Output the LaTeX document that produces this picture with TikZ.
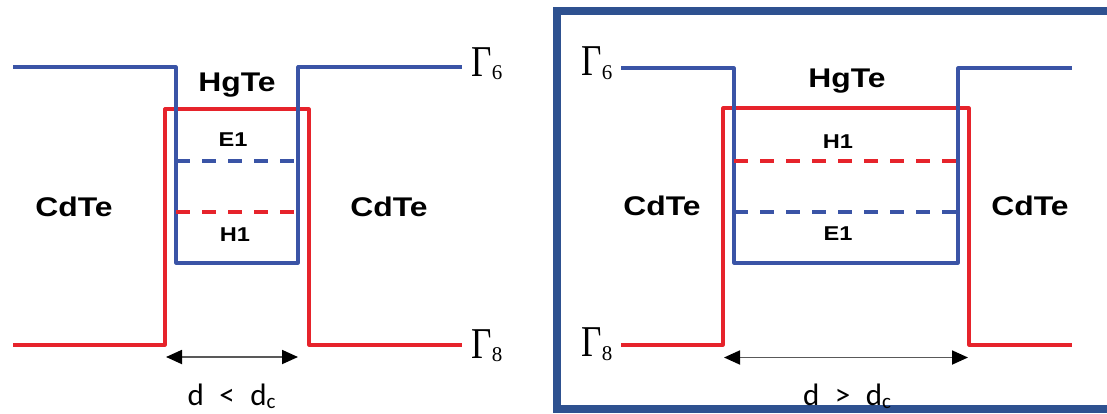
\documentclass[tikz,border=0pt]{standalone}
\usepackage{fontspec}
\newfontfamily\labfont[FakeStretch=1.18]{Liberation Sans}
\newfontfamily\dfont{Carlito}
\newfontfamily\gfont[FakeStretch=0.8]{Liberation Serif}
\newfontfamily\nfont{Liberation Serif}
\usepackage{xcolor}
\usepackage{tikz}
\usetikzlibrary{arrows.meta}
\definecolor{gsix}{HTML}{3A54A6}
\definecolor{geight}{HTML}{E6232B}
\definecolor{frm}{HTML}{2E5190}
\tikzset{
  cb/.style={line width=1.6pt,gsix,line join=round},
  vb/.style={line width=1.6pt,geight,line join=round},
  lvl/.style={line width=1.6pt,dash pattern=on 7pt off 6pt},
  mat/.style={font=\labfont\bfseries\fontsize{13.5}{15}\selectfont,anchor=base,inner sep=0pt},
  sb/.style={font=\labfont\bfseries\fontsize{10}{12}\selectfont,anchor=base,inner sep=0pt},
  wd/.style={line width=0.9pt,black!65,{Triangle[length=8pt,width=7pt,black]}-{Triangle[length=8pt,width=7pt,black]}},
  dl/.style={font=\dfont\fontsize{15.5}{17}\selectfont,anchor=base,inner sep=0pt},
  gm/.style={anchor=base west,inner sep=0pt}
}
\newcommand{\gam}[1]{{\gfont\fontsize{22}{24}\selectfont Γ}{\nfont\fontsize{10.5}{11}\selectfont\raisebox{-1.7pt}{#1}}}
\newcommand{\dsub}[1]{d{\fontsize{10.5}{11}\selectfont\raisebox{-1.8pt}{#1}}}

\begin{document}
\begin{tikzpicture}[x=0.5pt,y=-0.5pt]
\useasboundingbox (0,0) rectangle (1107,413);
\clip (0,0) rectangle (1107,413);
\draw[frm,line width=4pt] (557,11) rectangle (1125,409);
\draw[vb] (13,345) -- (165,345) -- (165,109) -- (309,109) -- (309,345) -- (462,345);
\draw[cb] (13,67) -- (176,67) -- (176,263) -- (298,263) -- (298,67) -- (462,67);
\draw[lvl,gsix] (176,161) -- (298,161);
\draw[lvl,geight] (176,212) -- (298,212);
\node[mat] (hgl) at (237,91) {HgTe};
\node[sb] (eal) at (233,146.5) {E1};
\node[sb] (hal) at (235,241.5) {H1};
\node[mat] (cdla) at (74,216) {CdTe};
\node[mat] (cdlb) at (389,216) {CdTe};
\node[gm] (gsl) at (471,76.5) {\gam{6}};
\node[gm] (gel) at (471,358) {\gam{8}};
\coordinate (wla) at (166,357);
\coordinate (wlb) at (298,357);
\draw[wd] (wla) -- (wlb);
\node[dl] (dlt) at (231.5,405) {d\hspace{0.5em}<\hspace{0.5em}\dsub{c}};
\draw[vb] (621,345) -- (723,345) -- (723,108) -- (969,108) -- (969,345) -- (1072,345);
\draw[cb] (621,68) -- (734,68) -- (734,263) -- (958,263) -- (958,68) -- (1072,68);
\draw[lvl,geight] (734,161) -- (958,161);
\draw[lvl,gsix] (734,212) -- (958,212);
\node[mat] (hgr) at (847,87) {HgTe};
\node[sb] (har) at (838,148) {H1};
\node[sb] (ear) at (838,240.5) {E1};
\node[mat] (cdra) at (662,215) {CdTe};
\node[mat] (cdrb) at (1030,215) {CdTe};
\node[gm] (gsr) at (581,75.7) {\gam{6}};
\node[gm] (ger) at (581,356.7) {\gam{8}};
\coordinate (wra) at (724,357.5);
\coordinate (wrb) at (968,357.5);
\draw[wd] (wra) -- (wrb);
\node[dl] (dgt) at (847,405) {d\hspace{0.5em}>\hspace{0.5em}\dsub{c}};
\end{tikzpicture}
\end{document}
